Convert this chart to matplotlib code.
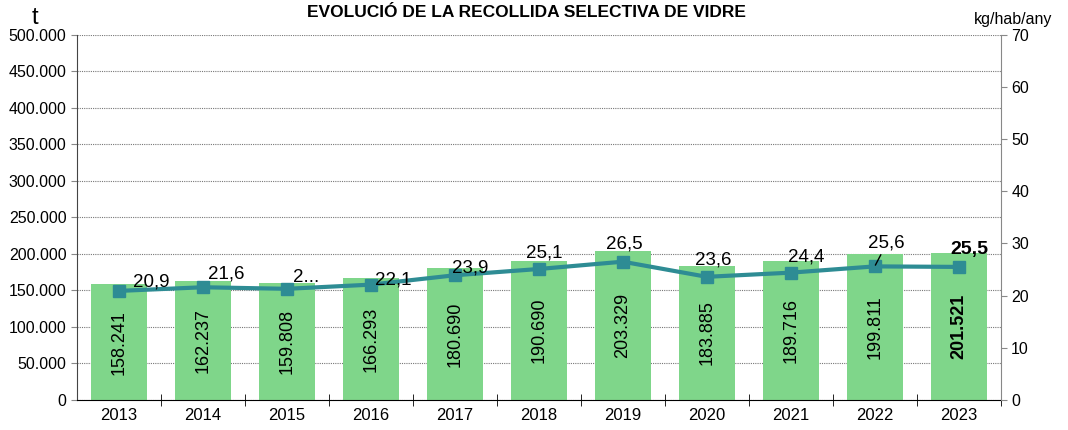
import matplotlib.pyplot as plt
import matplotlib.ticker as mticker

plt.rcParams['font.family'] = ['Liberation Sans', 'DejaVu Sans']

# data
years = ['2013', '2014', '2015', '2016', '2017', '2018', '2019', '2020', '2021', '2022', '2023']
tonnes = [158241, 162237, 159808, 166293, 180690, 190690, 203329, 183885, 189716, 199811, 201521]
kg_hab = [20.9, 21.6, 21.3, 22.1, 23.9, 25.1, 26.5, 23.6, 24.4, 25.6, 25.5]
kg_labels = ['20,9', '21,6', '2...', '22,1', '23,9', '25,1', '26,5', '23,6', '24,4', '25,6', '25,5']

# label offsets (pixels) for the line labels
lbl_dx = [32, 23, 19, 22, 15, 5, 2, 6, 15, 12, 11]
lbl_dy = [9, 13, 11, 5, 7, 16, 18, 17, 16, 23, 17]

bar_color = '#7fd68a'
line_color = '#2e8c94'

def fmt_thousands(v, pos=None):
    return f"{int(v):,}".replace(',', '.')

fig = plt.figure(figsize=(10.68, 4.3), dpi=100)
ax = fig.add_axes([0.072, 0.070, 0.865, 0.849])
x = list(range(len(years)))

ax.bar(x, tonnes, width=0.67, color=bar_color, zorder=2)
ax.set_xlim(-0.5, len(years) - 0.5)
ax.set_ylim(0, 500000)
ax.yaxis.set_major_locator(mticker.MultipleLocator(50000))
ax.yaxis.set_major_formatter(mticker.FuncFormatter(fmt_thousands))
ax.grid(axis='y', linestyle=(0, (1, 1)), color='#777777', linewidth=0.8, zorder=0)
ax.set_axisbelow(True)

ax.set_xticks(x)
ax.set_xticklabels(years)
ax.set_xticks([i + 0.5 for i in x], minor=True)
ax.tick_params(axis='x', which='major', length=0, labelsize=12, pad=6)
ax.tick_params(axis='x', which='minor', direction='inout', length=8, color='black')
ax.tick_params(axis='y', labelsize=11.5, length=4, color='#888888')

for s in ['top', 'right']:
    ax.spines[s].set_visible(False)
ax.spines['left'].set_color('#444444')
ax.spines['bottom'].set_color('black')

for i, v in enumerate(tonnes):
    bold = 'bold' if i == len(tonnes) - 1 else 'normal'
    ax.text(i, v / 2, fmt_thousands(v), rotation=90, ha='center', va='center',
            fontsize=13, fontweight=bold, color='black', zorder=4)

ax2 = ax.twinx()
ax2.set_ylim(0, 70)
ax2.yaxis.set_major_locator(mticker.MultipleLocator(10))
ax2.plot(x, kg_hab, color=line_color, linewidth=3, marker='s', markersize=8, zorder=5)
ax2.tick_params(axis='y', labelsize=11.5, length=4, color='#888888')
for s in ['top', 'left', 'bottom']:
    ax2.spines[s].set_visible(False)
ax2.spines['right'].set_color('#888888')

for i, v in enumerate(kg_hab):
    last = i == len(kg_hab) - 1
    if i == 9:
        ax2.annotate(kg_labels[i], xy=(i, v), xytext=(lbl_dx[i], lbl_dy[i]),
                     textcoords='offset pixels', ha='center', va='center', fontsize=13.5,
                     arrowprops=dict(arrowstyle='-', color='black', lw=1.0,
                                     shrinkA=0, shrinkB=1),
                     zorder=6)
    else:
        ax2.annotate(kg_labels[i], xy=(i, v), xytext=(lbl_dx[i], lbl_dy[i]),
                     textcoords='offset pixels', ha='center', va='center',
                     fontsize=14 if last else 13.5,
                     fontweight='bold' if last else 'normal', zorder=6)

fig.text(0.4925, 0.972, 'EVOLUCIÓ DE LA RECOLLIDA SELECTIVA DE VIDRE',
         ha='center', va='center', fontsize=12.5, fontweight='bold')
fig.text(0.033, 0.958, 't', ha='center', va='center', fontsize=17)
fig.text(0.985, 0.955, 'kg/hab/any', ha='right', va='center', fontsize=11.5)

fig.savefig('out.png', dpi=100)
